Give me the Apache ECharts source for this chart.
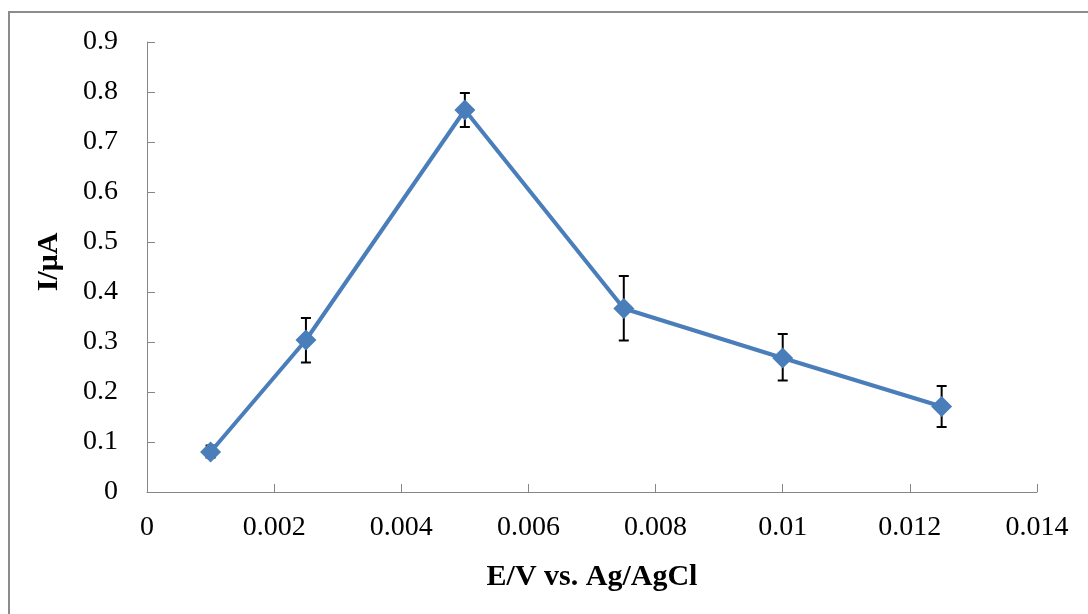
<!DOCTYPE html>
<html>
<head>
<meta charset="utf-8">
<style>
  html, body { margin: 0; padding: 0; background: #ffffff; }
  #chart { width: 1088px; height: 614px; }
</style>
<script src="https://cdn.jsdelivr.net/npm/echarts@6/dist/echarts.min.js"></script>
</head>
<body>
<div id="chart"></div>
<script>
// Potential step (V) and measured peak current (µA) with error range
const potentials = [0.001, 0.0025, 0.005, 0.0075, 0.01, 0.0125];
const currents   = [0.080, 0.304, 0.764, 0.367, 0.268, 0.171];
const errLow     = [0.069, 0.259, 0.730, 0.303, 0.223, 0.130];
const errHigh    = [0.093, 0.348, 0.798, 0.432, 0.316, 0.212];

const xTitle = 'E/V vs. Ag/AgCl';
const yTitle = 'I/\u03bcA';

const fontFamily = '"Liberation Serif", "DejaVu Serif", serif';

const lineData = potentials.map((x, i) => [x, currents[i]]);
const barData = potentials.map((x, i) => [x, errLow[i], errHigh[i]]);

const chart = echarts.init(document.getElementById('chart'), null, { renderer: 'canvas' });

chart.setOption({
  animation: false,
  backgroundColor: '#ffffff',
  graphic: [{
    type: 'rect',
    shape: { x: 9, y: 12, width: 1100, height: 640 },
    style: { fill: 'none', stroke: '#8c8c8c', lineWidth: 2 },
    silent: true
  }],
  grid: { left: 147, right: 51, top: 42, bottom: 122 },
  xAxis: {
    type: 'value',
    min: 0, max: 0.014, interval: 0.002,
    name: xTitle,
    nameLocation: 'middle',
    nameGap: 70,
    nameTextStyle: { fontFamily, fontSize: 30, fontWeight: 'bold', color: '#000' },
    axisLine: { show: true, lineStyle: { color: '#868686', width: 1 } },
    axisTick: { show: true, inside: true, length: 8, lineStyle: { color: '#868686' } },
    axisLabel: {
      fontFamily, fontSize: 28, color: '#000', margin: 22,
      formatter: v => (v === 0 ? '0' : String(parseFloat(v.toFixed(3))))
    },
    splitLine: { show: false }
  },
  yAxis: {
    type: 'value',
    min: 0, max: 0.9, interval: 0.1,
    name: yTitle,
    nameLocation: 'middle',
    nameGap: 83,
    nameRotate: 90,
    nameTextStyle: { fontFamily, fontSize: 30, fontWeight: 'bold', color: '#000', padding: [0, 0, 0, 10] },
    axisLine: { show: true, lineStyle: { color: '#868686', width: 1 } },
    axisTick: { show: true, inside: true, length: 8, lineStyle: { color: '#868686' } },
    axisLabel: {
      fontFamily, fontSize: 28, color: '#000', margin: 29,
      formatter: v => (v === 0 ? '0' : String(parseFloat(v.toFixed(1))))
    },
    splitLine: { show: false }
  },
  series: [
    {
      type: 'custom',
      data: barData,
      z: 1,
      renderItem: (params, api) => {
        const x = api.value(0);
        const lo = api.coord([x, api.value(1)]);
        const hi = api.coord([x, api.value(2)]);
        const half = 5;
        const style = { stroke: '#000', lineWidth: 2 };
        return {
          type: 'group',
          children: [
            { type: 'line', shape: { x1: lo[0], y1: lo[1], x2: hi[0], y2: hi[1] }, style },
            { type: 'line', shape: { x1: hi[0] - half, y1: hi[1], x2: hi[0] + half, y2: hi[1] }, style },
            { type: 'line', shape: { x1: lo[0] - half, y1: lo[1], x2: lo[0] + half, y2: lo[1] }, style }
          ]
        };
      }
    },
    {
      type: 'line',
      data: lineData,
      symbol: 'diamond',
      symbolSize: 21,
      lineStyle: { color: '#4a7ebb', width: 4 },
      itemStyle: { color: '#4a7ebb' },
      z: 2
    }
  ]
});
</script>
</body>
</html>
